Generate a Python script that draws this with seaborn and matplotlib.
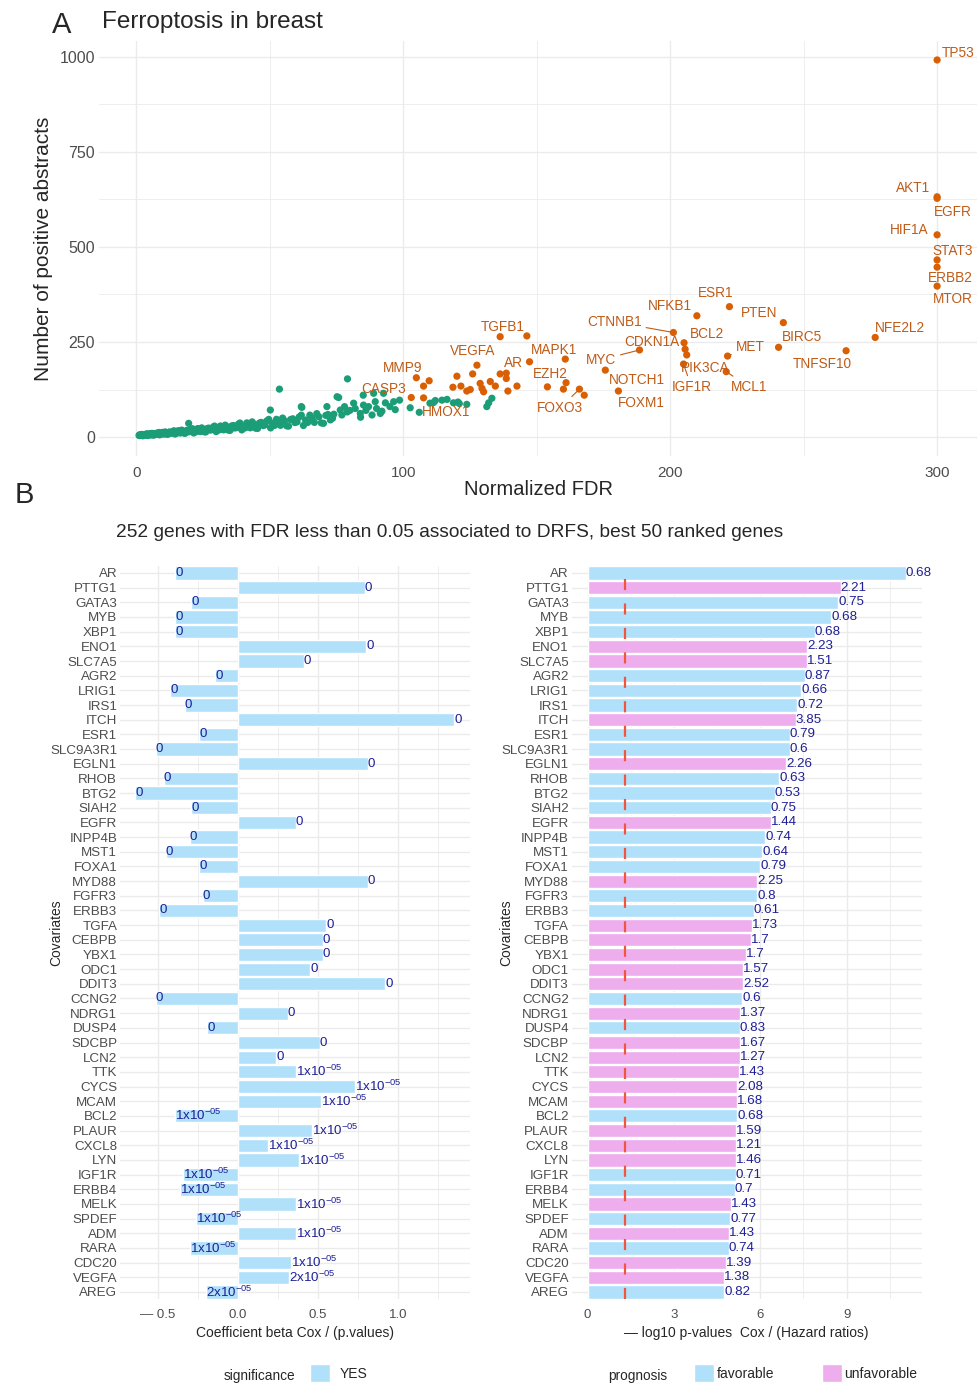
import numpy as np
import pandas as pd
import matplotlib.pyplot as plt
import seaborn as sns
from matplotlib.patches import Patch
from matplotlib.ticker import MultipleLocator

# ---------------- panel A : genes, normalized FDR vs abstracts ----------------
# dense band of low-FDR genes (green)
band_a_x = [1.0, 1.4, 1.8, 2.2, 2.6, 3.0, 3.5, 4.0, 4.5, 5.0, 5.5, 6.0, 6.6, 7.2, 7.8, 8.4, 9.0, 9.7,
            10.4, 11.1, 11.8, 12.5, 13.3, 14.1, 14.9, 15.7, 16.5, 17.4, 18.3, 19.2, 20.1, 21.0, 22.0,
            23.0, 24.0, 25.0, 26.0, 27.1, 28.2, 29.3, 30.4, 31.5, 32.7, 33.9, 35.1, 36.3, 37.5, 38.8,
            40.1, 41.4, 42.7, 44.0, 45.4, 46.8, 48.2, 49.6, 51.0, 52.5, 54.0, 55.5, 57.0, 58.6, 60.2,
            61.8, 63.4, 65.0, 66.7, 68.4, 70.1, 71.8, 73.5]
band_a_y = [4.6, 6.2, 3.9, 5.8, 3.6, 6.7, 5.5, 8.5, 6.5, 8.8, 5.5, 8.2, 5.2, 9.5, 7.8, 11.9, 9.1, 12.2,
            7.7, 11.4, 7.2, 13.1, 10.7, 16.4, 12.5, 16.7, 10.6, 15.5, 9.9, 17.8, 14.6, 21.9, 16.8,
            22.3, 14.3, 20.6, 13.3, 23.5, 19.3, 28.8, 22.1, 29.0, 18.8, 26.9, 17.5, 30.3, 24.9, 36.9,
            28.5, 37.2, 24.2, 34.2, 22.5, 38.5, 31.8, 46.4, 36.0, 46.6, 30.7, 42.9, 28.6, 48.0, 39.8,
            57.6, 44.9, 57.7, 38.5, 53.2, 36.0, 59.2, 49.3]
band_b_x = [1.2, 1.6, 2.0, 2.4, 2.8, 3.2, 3.8, 4.3, 4.8, 5.3, 5.8, 6.3, 6.9, 7.5, 8.1, 8.7, 9.4, 10.0,
            10.8, 11.5, 12.2, 12.9, 13.7, 14.5, 15.3, 16.1, 17.0, 17.9, 18.8, 19.7, 20.6, 21.5, 22.5,
            23.5, 24.5, 25.5, 26.6, 27.7, 28.8, 29.9, 31.0, 32.1, 33.3, 34.5, 35.7, 36.9, 38.2, 39.5,
            40.8, 42.1, 43.4, 44.7, 46.1, 47.5, 48.9, 50.3, 51.8, 53.3, 54.8, 56.3, 57.8, 59.4, 61.0,
            62.6, 64.2, 65.9, 67.6, 69.3, 71.0, 72.7]
band_b_y = [3.8, 5.2, 6.8, 3.7, 6.4, 5.1, 7.7, 4.0, 5.4, 7.5, 9.6, 5.3, 9.0, 7.3, 10.7, 5.7, 7.6, 10.4,
            13.4, 7.5, 12.5, 10.1, 14.8, 7.9, 10.5, 14.2, 18.2, 10.3, 17.0, 13.8, 19.9, 10.7, 14.1,
            19.0, 24.1, 13.7, 22.4, 18.3, 26.2, 14.3, 18.6, 24.8, 31.3, 18.0, 29.0, 23.7, 33.6, 18.7,
            24.1, 31.8, 39.9, 23.2, 36.8, 30.2, 42.4, 23.9, 30.6, 40.0, 49.9, 29.5, 46.0, 38.0, 52.7,
            30.3, 38.3, 49.7, 61.6, 37.0, 56.9, 47.1]
loose_x = [19.6, 50.2, 53.6, 61.8, 62.0, 71.4, 72.7, 74.0, 75.2, 75.8, 76.4, 77.0, 78.0, 79.1, 79.0,
           80.0, 81.4, 82.0, 83.9, 84.0, 85.0, 85.1, 86.0, 87.0, 88.3, 88.9, 89.5, 90.0, 91.4, 92.0,
           92.6, 93.3, 95.0, 96.4, 97.0, 98.6, 102.6, 106.0, 110.0, 111.4, 112.0, 114.5, 116.4, 118.8,
           120.5, 121.0, 123.8, 131.3, 132.0, 133.2]
loose_y = [36, 71, 126, 80, 78, 80, 45, 60, 106, 104, 71, 58, 80, 153, 66, 70, 89, 75, 62, 52, 110,
           84, 70, 80, 58, 115, 93, 75, 62, 68, 115, 90, 80, 93, 72, 97, 77, 65, 89, 91, 96, 97, 99,
           90, 92, 88, 86, 80, 90, 102]

# high-FDR genes (orange)
orange_x = [104.9, 109.7, 107.6, 103.0, 107.6, 118.6, 120.1, 121.6, 123.8, 125.1, 126.0, 127.6, 128.8,
            129.5, 130.1, 132.6, 134.5, 136.3, 138.6, 138.6, 139.2, 136.3, 146.3, 147.3, 142.6, 154.0,
            160.0, 160.7, 161.0, 166.0, 167.8, 175.7, 188.5, 180.6, 201.2, 210.0, 222.2, 205.2, 205.6,
            206.2, 205.0, 221.5, 221.0, 242.4, 240.6, 265.9, 276.8, 300, 300, 300, 300, 300, 300, 300]
orange_y = [156, 148, 134, 104, 103, 131, 160, 134, 121, 125, 166, 189, 141, 128, 119, 146, 134, 166,
            168, 154, 121, 264, 266, 198, 134, 132, 126, 205, 143, 126, 110, 176, 229, 121, 275, 319,
            343, 248, 231, 216, 192, 213, 172, 301, 236, 227, 262, 397, 992, 632, 628, 532, 466, 447]

# repel-style gene labels (text placement) and the labels joined to their point by a segment
label_genes = ['TP53', 'AKT1', 'EGFR', 'HIF1A', 'STAT3', 'ERBB2', 'MTOR', 'ESR1', 'NFKB1', 'PTEN',
               'CTNNB1', 'BCL2', 'CDKN1A', 'BIRC5', 'NFE2L2', 'MET', 'MYC', 'PIK3CA', 'TNFSF10',
               'NOTCH1', 'IGF1R', 'MCL1', 'FOXM1', 'TGFB1', 'VEGFA', 'MAPK1', 'AR', 'MMP9', 'EZH2',
               'CASP3', 'HMOX1', 'FOXO3']
label_x = [308, 291, 306, 289.7, 306, 305, 306, 217, 199.7, 233.4, 179, 213.7, 193, 249.3, 285.9, 230,
           174, 213, 257, 187.5, 208, 229.7, 189, 137.3, 126, 156.3, 141.3, 99.7, 155, 92.6, 116, 158.8]
label_y = [1010, 655, 592, 545, 490, 418, 363, 378, 345, 325, 303, 271, 249, 262, 286, 238, 203, 182,
           192, 150, 131, 131, 90, 290, 227, 229, 194, 181, 165, 126, 67, 77]
linked = {'CTNNB1': 34, 'MYC': 32, 'MET': 41, 'MCL1': 42, 'IGF1R': 40, 'FOXO3': 29}

# ---------------- panel B : Cox regression, best 50 ranked genes ----------------
genes = ['AR', 'PTTG1', 'GATA3', 'MYB', 'XBP1', 'ENO1', 'SLC7A5', 'AGR2', 'LRIG1', 'IRS1', 'ITCH',
         'ESR1', 'SLC9A3R1', 'EGLN1', 'RHOB', 'BTG2', 'SIAH2', 'EGFR', 'INPP4B', 'MST1', 'FOXA1',
         'MYD88', 'FGFR3', 'ERBB3', 'TGFA', 'CEBPB', 'YBX1', 'ODC1', 'DDIT3', 'CCNG2', 'NDRG1', 'DUSP4',
         'SDCBP', 'LCN2', 'TTK', 'CYCS', 'MCAM', 'BCL2', 'PLAUR', 'CXCL8', 'LYN', 'IGF1R', 'ERBB4',
         'MELK', 'SPDEF', 'ADM', 'RARA', 'CDC20', 'VEGFA', 'AREG']
beta = [-0.39, 0.79, -0.29, -0.39, -0.39, 0.80, 0.41, -0.14, -0.42, -0.33, 1.35, -0.24, -0.51, 0.81,
        -0.46, -0.64, -0.29, 0.36, -0.30, -0.45, -0.24, 0.81, -0.22, -0.49, 0.55, 0.53, 0.53, 0.45,
        0.92, -0.51, 0.31, -0.19, 0.51, 0.24, 0.36, 0.73, 0.52, -0.39, 0.46, 0.19, 0.38, -0.34, -0.36,
        0.36, -0.26, 0.36, -0.30, 0.33, 0.32, -0.20]
p_labels = ['0', '0', '0', '0', '0', '0', '0', '0', '0', '0', '0', '0', '0', '0', '0', '0', '0',
            '0', '0', '0', '0', '0', '0', '0', '0', '0', '0', '0', '0', '0', '0', '0', '0', '0',
            '1x10-05', '1x10-05', '1x10-05', '1x10-05', '1x10-05', '1x10-05', '1x10-05', '1x10-05',
            '1x10-05', '1x10-05', '1x10-05', '1x10-05', '1x10-05', '1x10-05', '2x10-05', '2x10-05']
neglog_p = [11.06, 8.80, 8.71, 8.46, 7.90, 7.63, 7.63, 7.55, 7.43, 7.29, 7.23, 7.02, 7.02, 6.89, 6.65,
            6.51, 6.36, 6.36, 6.18, 6.06, 5.99, 5.89, 5.89, 5.77, 5.71, 5.67, 5.51, 5.41, 5.41, 5.37,
            5.30, 5.29, 5.28, 5.28, 5.26, 5.20, 5.20, 5.20, 5.17, 5.17, 5.17, 5.15, 5.11, 4.99, 4.95,
            4.92, 4.90, 4.81, 4.74, 4.74]
hazard = [0.68, 2.21, 0.75, 0.68, 0.68, 2.23, 1.51, 0.87, 0.66, 0.72, 3.85, 0.79, 0.6, 2.26, 0.63,
          0.53, 0.75, 1.44, 0.74, 0.64, 0.79, 2.25, 0.8, 0.61, 1.73, 1.7, 1.7, 1.57, 2.52, 0.6, 1.37,
          0.83, 1.67, 1.27, 1.43, 2.08, 1.68, 0.68, 1.59, 1.21, 1.46, 0.71, 0.7, 1.43, 0.77, 1.43,
          0.74, 1.39, 1.38, 0.82]

green = '#1B9E77'
orange = '#D95F02'
lab_col = '#BF5B17'
blue = '#B0E0FA'
pink = '#EEAEEE'
navy = '#1F1F96'
grey_txt = '#4D4D4D'
grid_col = '#EBEBEB'

sns.set_theme(style='whitegrid')
plt.rcParams['font.family'] = ['Liberation Sans', 'DejaVu Sans']

fig = plt.figure(figsize=(9.79, 13.84), dpi=100)


def style_axes(ax):
    sns.despine(ax=ax, left=True, bottom=True, top=True, right=True)
    ax.set_axisbelow(True)
    ax.grid(True, which='major', color=grid_col, lw=1.0)
    ax.grid(True, which='minor', color=grid_col, lw=0.6)
    ax.tick_params(which='both', length=0, labelcolor=grey_txt)


# ---- A ----
axA = fig.add_axes([0.1011, 0.6705, 0.897, 0.2999])
dfA = pd.DataFrame({
    'fdr': band_a_x + band_b_x + loose_x + orange_x,
    'abstracts': band_a_y + band_b_y + loose_y + orange_y,
    'grp': ['low'] * (len(band_a_x) + len(band_b_x) + len(loose_x)) + ['high'] * len(orange_x),
})
sns.scatterplot(data=dfA, x='fdr', y='abstracts', hue='grp', palette={'low': green, 'high': orange},
                s=27, linewidth=0, legend=False, ax=axA)
axA.set_xlim(-14, 315)
axA.set_ylim(-50, 1042)
axA.set_xticks([0, 100, 200, 300])
axA.set_yticks([0, 250, 500, 750, 1000])
axA.xaxis.set_minor_locator(MultipleLocator(50))
axA.yaxis.set_minor_locator(MultipleLocator(125))
style_axes(axA)
axA.tick_params(axis='x', labelsize=11, pad=7)
axA.tick_params(axis='y', labelsize=11.5, pad=3)
axA.set_xlabel('Normalized FDR', fontsize=14.5)
axA.set_ylabel('Number of positive abstracts', fontsize=15)
axA.xaxis.set_label_coords(0.5, -0.058)
axA.yaxis.set_label_coords(-0.052, 0.5)

for g, tx, ty in zip(label_genes, label_x, label_y):
    if g in linked:
        i = linked[g]
        axA.annotate(g, xy=(orange_x[i], orange_y[i]), xytext=(tx, ty), ha='center', va='center',
                     fontsize=9.8, color=lab_col,
                     arrowprops=dict(arrowstyle='-', color=lab_col, lw=0.8, shrinkA=1, shrinkB=2))
    else:
        axA.text(tx, ty, g, ha='center', va='center', fontsize=9.8, color=lab_col)

fig.text(0.053, 0.976, 'A', fontsize=21, ha='left', va='baseline')
fig.text(0.104, 0.9795, 'Ferroptosis in breast', fontsize=17.5, ha='left', va='baseline')

# ---- B ----
fig.text(0.0153, 0.6366, 'B', fontsize=21, ha='left', va='baseline')
fig.text(0.4597, 0.6149, '252 genes with FDR less than 0.05 associated to DRFS, best 50 ranked genes',
         fontsize=13.8, ha='center', va='center')

dfB = pd.DataFrame({'gene': genes, 'beta': beta, 'p': p_labels, 'nlp': neglog_p, 'hr': hazard})
dfB['prognosis'] = np.where(dfB['hr'] > 1, 'unfavorable', 'favorable')

axL = fig.add_axes([0.1226, 0.0612, 0.3575, 0.5301])
sns.barplot(data=dfB, y='gene', x='beta', order=genes, color=blue, saturation=1, width=0.9,
            errorbar=None, orient='h', ax=axL)
axL.set_xlim(-0.734, 1.447)
axL.set_xticks([-0.5, 0, 0.5, 1.0])
axL.set_xticklabels(['\u2014 0.5', '0.0', '0.5', '1.0'])
axL.xaxis.set_minor_locator(MultipleLocator(0.25))
style_axes(axL)
axL.yaxis.grid(True, which='major', color=grid_col, lw=1.0)
for i, (b, p) in enumerate(zip(beta, p_labels)):
    if p == '0':
        txt = '0'
    else:
        txt = r'$\mathregular{' + p[:4] + '^{' + p[4:] + '}}$'
    axL.text(b, i, txt, ha='left', va='center', fontsize=9.6, color=navy)
axL.tick_params(axis='y', labelsize=9.6, pad=2)
axL.tick_params(axis='x', labelsize=9.5, pad=7)
axL.set_xlabel('Coefficient beta Cox / (p.values)', fontsize=10)
axL.set_ylabel('Covariates', fontsize=10)
axL.xaxis.set_label_coords(0.5, -0.036)
axL.yaxis.set_label_coords(-0.163, 0.5)

axR = fig.add_axes([0.584, 0.0612, 0.3575, 0.5301])
sns.barplot(data=dfB, y='gene', x='nlp', order=genes, hue='prognosis',
            palette={'favorable': blue, 'unfavorable': pink}, dodge=False, saturation=1, width=0.9,
            errorbar=None, orient='h', legend=False, ax=axR)
axR.set_xlim(-0.553, 11.61)
axR.set_xticks([0, 3, 6, 9])
axR.xaxis.set_minor_locator(MultipleLocator(1.5))
style_axes(axR)
axR.yaxis.grid(True, which='major', color=grid_col, lw=1.0)
axR.axvline(-np.log10(0.05), color='#F2553D', lw=1.6, dashes=(5, 6), zorder=3)
for i, (v, h) in enumerate(zip(neglog_p, hazard)):
    axR.text(v, i, f'{h:g}', ha='left', va='center', fontsize=9.6, color=navy)
axR.tick_params(axis='y', labelsize=9.6, pad=2)
axR.tick_params(axis='x', labelsize=9.5, pad=7)
axR.set_xlabel('\u2014 log10 p-values  Cox / (Hazard ratios)', fontsize=10)
axR.set_ylabel('Covariates', fontsize=10)
axR.xaxis.set_label_coords(0.5, -0.036)
axR.yaxis.set_label_coords(-0.168, 0.5)

# legends along the bottom
fig.text(259.5 / 979, 1 - 1376 / 1384, 'significance', ha='center', va='center', fontsize=9.8)
fig.legend(handles=[Patch(facecolor=blue, label='YES')], loc='center left',
           bbox_to_anchor=(310 / 979, 1 - 1373 / 1384), frameon=False, fontsize=10,
           handlelength=1.45, handleheight=1.6, handletextpad=0.7, borderpad=0, borderaxespad=0)
fig.text(637.5 / 979, 1 - 1376 / 1384, 'prognosis', ha='center', va='center', fontsize=9.8)
fig.legend(handles=[Patch(facecolor=blue, label='favorable'), Patch(facecolor=pink, label='unfavorable')],
           loc='center left', bbox_to_anchor=(694 / 979, 1 - 1373 / 1384), ncol=2, frameon=False,
           fontsize=10, handlelength=1.45, handleheight=1.6, handletextpad=0.2, columnspacing=3.4,
           borderpad=0, borderaxespad=0)

fig.savefig('out.png', dpi=100)
